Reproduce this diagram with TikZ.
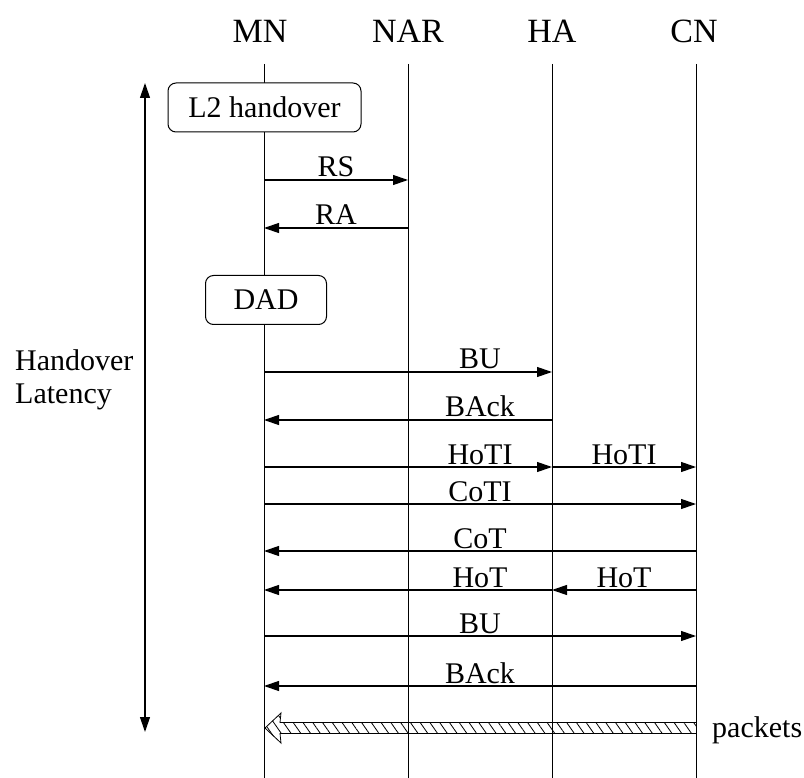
\documentclass[tikz,border=0pt]{standalone}
\usepackage{fontspec}
\setmainfont{Liberation Serif}
\usetikzlibrary{arrows.meta,patterns.meta}
\tikzset{
  life/.style={line width=1pt},
  msg/.style={line width=1.2pt,-{Triangle[length=15pt,width=10pt]}},
  lab/.style={anchor=base,inner sep=0pt,font=\fontsize{30}{36}\selectfont},
  head/.style={anchor=base,inner sep=0pt,font=\fontsize{34}{40}\selectfont},
  procbox/.style={draw,line width=1pt,rounded corners=8pt,fill=white,inner sep=0pt,font=\fontsize{30}{36}\selectfont},
  latency/.style={line width=1.2pt,{Triangle[length=15pt,width=10pt]}-{Triangle[length=15pt,width=10pt]}},
  packetarrow/.style={line width=0.8pt,pattern={Lines[angle=-55,distance=8pt,line width=0.8pt]}}
}
\begin{document}
\begin{tikzpicture}[x=1pt,y=-1pt]
\useasboundingbox (0,0) rectangle (804,778);
% headers
\node[head] (MN)  at (260,43) {MN};
\node[head] (NAR) at (408,43) {NAR};
\node[head] (HA)  at (552,43) {HA};
\node[head] (CN)  at (694,43) {CN};
% lifelines
\coordinate (MNtop) at (264,64);  \coordinate (MNbot) at (264,778);
\coordinate (NARtop) at (408,64); \coordinate (NARbot) at (408,778);
\coordinate (HAtop) at (552,64);  \coordinate (HAbot) at (552,778);
\coordinate (CNtop) at (696,64);  \coordinate (CNbot) at (696,778);
\draw[life] (MNtop) -- (MNbot);
\draw[life] (NARtop) -- (NARbot);
\draw[life] (HAtop) -- (HAbot);
\draw[life] (CNtop) -- (CNbot);
% boxes
\node[procbox,minimum width=193pt,minimum height=49pt] (l2) at (264.5,107.5) {L2 handover};
\node[procbox,minimum width=121pt,minimum height=49pt] (dad) at (266,300) {DAD};
% latency arrow
\coordinate (latTop) at (145,83);
\coordinate (latBot) at (145,732);
\draw[latency] (latBot) -- (latTop);
\node[lab,anchor=base west] (lat1) at (15,370.7) {Handover};
\node[lab,anchor=base west] (lat2) at (15,403) {Latency};
% messages
\coordinate (rsA) at (264,180); \coordinate (rsB) at (408,180);
\draw[msg] (rsA) -- (rsB);
\node[lab] (rs) at (336,177) {RS};
\coordinate (raA) at (408,228); \coordinate (raB) at (264,228);
\draw[msg] (raA) -- (raB);
\node[lab] (ra) at (336,225) {RA};
\coordinate (buA) at (264,372); \coordinate (buB) at (552,372);
\draw[msg] (buA) -- (buB);
\node[lab] (bu) at (480,369) {BU};
\coordinate (baA) at (552,420); \coordinate (baB) at (264,420);
\draw[msg] (baA) -- (baB);
\node[lab] (ba) at (480,417) {BAck};
\coordinate (htA) at (264,467); \coordinate (htB) at (552,467); \coordinate (htC) at (696,467);
\draw[msg] (htA) -- (htB);
\draw[msg] (htB) -- (htC);
\node[lab] (ht1) at (480,464) {HoTI};
\node[lab] (ht2) at (624,464) {HoTI};
\coordinate (ctA) at (264,504); \coordinate (ctB) at (696,504);
\draw[msg] (ctA) -- (ctB);
\node[lab] (ct) at (480,501) {CoTI};
\coordinate (cA) at (696,551); \coordinate (cB) at (264,551);
\draw[msg] (cA) -- (cB);
\node[lab] (cot) at (480,548) {CoT};
\coordinate (hA) at (696,590); \coordinate (hB) at (552,590); \coordinate (hC) at (264,590);
\draw[msg] (hA) -- (hB);
\draw[msg] (hB) -- (hC);
\node[lab] (hot1) at (480,587) {HoT};
\node[lab] (hot2) at (624,587) {HoT};
\coordinate (bu2A) at (264,636); \coordinate (bu2B) at (696,636);
\draw[msg] (bu2A) -- (bu2B);
\node[lab] (bu2) at (480,633) {BU};
\coordinate (ba2A) at (696,686); \coordinate (ba2B) at (264,686);
\draw[msg] (ba2A) -- (ba2B);
\node[lab] (ba2) at (480,683) {BAck};
% packets
\coordinate (pkTip) at (265,728);
\draw[packetarrow] (696,722.5) -- (280,722.5) -- (281,713) -- (pkTip) -- (281,743) -- (280,733.5) -- (696,733.5);
\node[lab,anchor=base west] (pk) at (712,737) {packets};
\end{tikzpicture}
\end{document}
